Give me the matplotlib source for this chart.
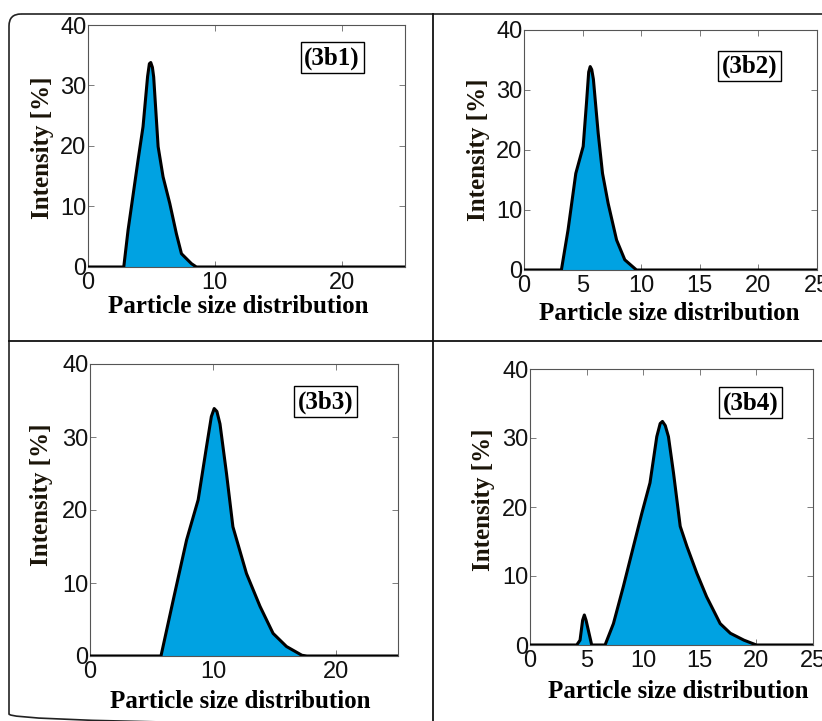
import matplotlib
matplotlib.use("Agg")
import matplotlib.pyplot as plt
from matplotlib.patches import FancyBboxPatch

# ---- size distributions (x: particle size, y: intensity %) ----------------
x_3b1 = [0, 2.82, 3.16, 3.95, 4.34, 4.70, 4.84, 4.95, 5.08, 5.18, 5.53, 5.92, 6.45, 6.97, 7.37, 8.16, 8.55, 25]
y_3b1 = [0, 0, 6.1, 17.7, 23.2, 31.5, 33.6, 33.8, 33.0, 31.4, 19.9, 14.9, 10.5, 5.5, 2.2, 0.55, 0, 0]

x_3b2 = [0, 3.19, 3.76, 4.42, 5.05, 5.33, 5.52, 5.65, 5.78, 5.92, 6.33, 6.70, 7.18, 7.90, 8.60, 9.60, 25]
y_3b2 = [0, 0, 6.7, 16.1, 20.6, 27.8, 33.0, 33.9, 33.4, 31.8, 22.8, 16.1, 11.1, 5.0, 1.7, 0, 0]

x_3b3 = [0, 5.76, 6.76, 7.84, 8.78, 9.46, 9.85, 10.08, 10.3, 10.55, 11.08, 11.6, 12.7, 13.8, 14.86, 15.95, 17.2, 17.6, 25]
y_3b3 = [0, 0, 7.7, 15.9, 21.4, 28.7, 32.8, 33.9, 33.5, 31.8, 25.0, 17.7, 11.3, 6.8, 3.1, 1.3, 0.1, 0, 0]

x_3b4 = [0, 4.13, 4.42, 4.65, 4.80, 4.95, 5.45, 6.63, 7.37, 8.25, 9.14, 9.88, 10.6, 11.2, 11.5, 11.7,
         11.95, 12.23, 12.68, 13.27, 13.86, 14.74, 15.6, 16.8, 17.7, 18.9, 20.0, 25]
y_3b4 = [0, 0, 0.7, 3.6, 4.35, 3.6, 0, 0, 3.1, 8.5, 14.3, 19.1, 23.5, 30.2, 32.1, 32.4,
         31.8, 30.2, 24.9, 17.2, 14.3, 10.4, 7.0, 3.1, 1.7, 0.7, 0, 0]

tags = ["(3b1)", "(3b2)", "(3b3)", "(3b4)"]
xticks_coarse = [0, 10, 20]
xticks_fine = [0, 5, 10, 15, 20, 25]
yticks = [0, 10, 20, 30, 40]

FILL = "#00a2e2"
SERIF = ["Liberation Serif", "DejaVu Serif"]
SANS = ["Liberation Sans", "DejaVu Sans"]

W, H = 822, 721
fig = plt.figure(figsize=(W / 100, H / 100), dpi=100)

# background panel frame drawn in pixel space
bg = fig.add_axes([0, 0, 1, 1], zorder=-1)
bg.set_xlim(0, W)
bg.set_ylim(H, 0)
bg.axis("off")
bg.add_patch(FancyBboxPatch((9, 14), 860, 712, boxstyle="round,pad=0,rounding_size=12",
                            fill=False, ec="#222222", lw=1.2))
bg.plot([433, 433], [14, H], color="#111111", lw=1.3)
bg.plot([9, W], [341, 341], color="#111111", lw=1.3)


def px_axes(x0, y0, x1, y1):
    return fig.add_axes([x0 / W, (H - y1) / H, (x1 - x0) / W, (y1 - y0) / H])


panels = [
    (px_axes(88, 25, 405, 267), x_3b1, y_3b1, xticks_coarse, (0.77, 0.864), (0.473, -0.165), (-0.145, 0.492)),
    (px_axes(524, 30, 817, 270), x_3b2, y_3b2, xticks_fine, (0.77, 0.85), (0.497, -0.183), (-0.154, 0.5)),
    (px_axes(90, 364, 398, 656), x_3b3, y_3b3, xticks_coarse, (0.766, 0.87), (0.487, -0.155), (-0.156, 0.551)),
    (px_axes(530, 369, 813, 645), x_3b4, y_3b4, xticks_fine, (0.779, 0.877), (0.523, -0.167), (-0.166, 0.525)),
]

for (ax, xs, ys, xt, tag_pos, xl_pos, yl_pos), tag in zip(panels, tags):
    ax.fill_between(xs, ys, 0, color=FILL, lw=0, zorder=2)
    ax.plot(xs, ys, color="black", lw=2.2, zorder=3, solid_joinstyle="round")
    ax.set_xlim(0, 25)
    ax.set_ylim(0, 40)
    ax.set_xticks(xt)
    ax.set_yticks(yticks)
    ax.tick_params(direction="in", length=4, width=0.6, color="#666666",
                   top=True, right=True, labelsize=17, pad=1)
    ax.tick_params(axis="x", pad=3.5)
    for lab in ax.get_xticklabels() + ax.get_yticklabels():
        lab.set_fontfamily(SANS)
        lab.set_color("#111111")
    for sp in ax.spines.values():
        sp.set_color("#555555")
        sp.set_linewidth(0.8)
    ax.set_xlabel("Particle size distribution", fontsize=18, fontweight="bold",
                  family=SERIF, va="center")
    ax.xaxis.set_label_coords(*xl_pos)
    ax.set_ylabel("Intensity [%]", fontsize=18, fontweight="bold",
                  family=SERIF, va="center", color="#1a1408")
    ax.yaxis.set_label_coords(*yl_pos)
    ax.text(*tag_pos, tag, transform=ax.transAxes, ha="center", va="center",
            fontsize=18, fontweight="bold", family=SERIF,
            bbox=dict(boxstyle="square,pad=0.15", fc="white", ec="black", lw=1.0))

fig.savefig("out.png", dpi=100)
